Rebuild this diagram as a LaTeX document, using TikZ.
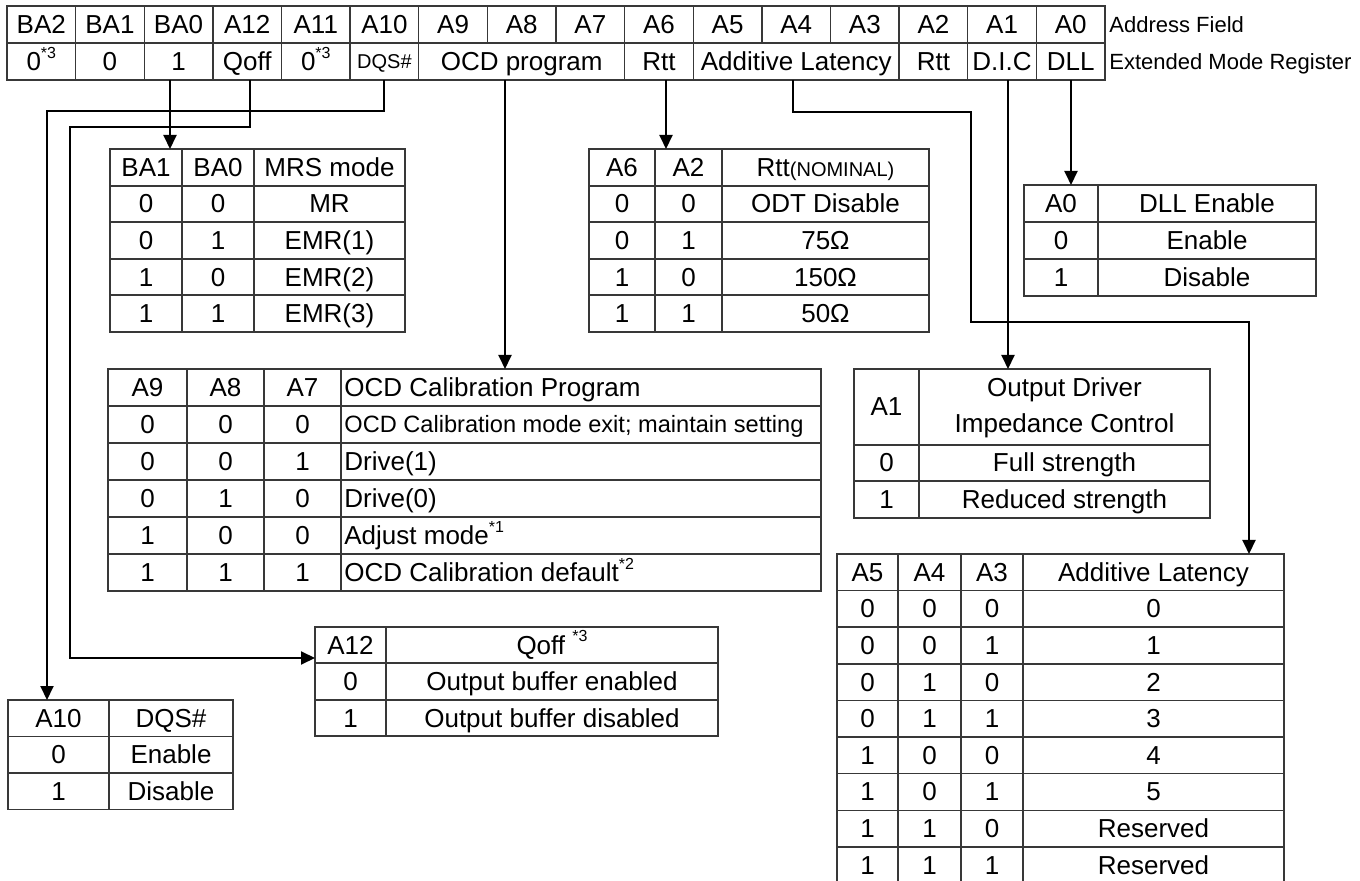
\documentclass[tikz,border=0pt]{standalone}
\usepackage{fontspec}
\setmainfont{Liberation Sans}
\usetikzlibrary{arrows.meta}
\newcommand\fsn{\fontsize{13}{15}\selectfont}
\newcommand\fss{\fontsize{11}{13}\selectfont}
\newcommand\fsx{\fontsize{10}{12}\selectfont}
\newcommand\fsm{\fontsize{11.8}{13}\selectfont}
\newcommand\supst[1]{\raisebox{0.9ex}{\fontsize{8}{9}\selectfont #1}}
\tikzset{
 tbl/.style={draw=black!78, line width=0.7pt},
 txt/.style={inner sep=0pt, anchor=base, font=\fsn},
 ltxt/.style={inner sep=0pt, anchor=base west, font=\fsn},
 conn/.style={draw=black, line width=1pt},
 arr/.style={conn, -{Triangle[length=7pt,width=6.5pt]}},
}
\begin{document}
\begin{tikzpicture}[x=0.5pt,y=-0.5pt]
\useasboundingbox (0,0) rectangle (1360,881);
% ---------- top register table ----------
\draw[tbl] (7,6) rectangle (1105,80);
\draw[tbl] (7,43) -- (1105,43);
\foreach \i in {1,...,15} {\draw[tbl] ({7+68.625*\i},6) -- ({7+68.625*\i},43);}
\foreach \i in {1,2,3,4,5,6,9,10,13,14,15} {\draw[tbl] ({7+68.625*\i},43) -- ({7+68.625*\i},80);}
\foreach \t [count=\i from 0] in {BA2,BA1,BA0,A12,A11,A10,A9,A8,A7,A6,A5,A4,A3,A2,A1,A0}
  {\node[txt] (af\i) at ({7+68.625*(\i+0.5)},33.5) {\t};}
\node[txt] (em0) at (41.3,70.5) {0\supst{*3}};
\node[txt] (em1) at (109.9,70.5) {0};
\node[txt] (em2) at (178.6,70.5) {1};
\node[txt] (em3) at (247.2,70.5) {Qoff};
\node[txt] (em4) at (315.8,70.5) {0\supst{*3}};
\node[txt,font=\fsx] (em5) at (384.4,68.5) {DQS\#};
\node[txt] (em6) at (521.7,70.5) {OCD program};
\node[txt] (em9) at (659,70.5) {Rtt};
\node[txt] (em10) at (796.2,70.5) {Additive Latency};
\node[txt] (em13) at (933.4,70.5) {Rtt};
\node[txt] (em14) at (1002,70.5) {D.I.C};
\node[txt] (em15) at (1070.7,70.5) {DLL};
\node[inner sep=0pt, anchor=base west, font=\fss] (lblAF) at (1109,32.5) {Address Field};
\node[inner sep=0pt, anchor=base west, font=\fss] (lblEMR) at (1109,69.5) {Extended Mode Register};
% ---------- MRS mode table ----------
\draw[tbl] (110,149) rectangle (405,332);
\foreach \y in {186,222,259,295} {\draw[tbl] (110,\y) -- (405,\y);}
\foreach \x in {182,254} {\draw[tbl] (\x,149) -- (\x,332);}
\foreach \ta/\tb/\tc [count=\i from 0] in {BA1/BA0/MRS mode,0/0/MR,0/1/EMR(1),1/0/EMR(2),1/1/EMR(3)}{
  \pgfmathsetmacro\yb{149+36.6*\i+18.3+9}
  \node[txt] (mrs-\i-a) at (146,\yb) {\ta};
  \node[txt] (mrs-\i-b) at (218,\yb) {\tb};
  \node[txt] (mrs-\i-c) at (329.5,\yb) {\tc};
}
% ---------- Rtt table ----------
\draw[tbl] (589,149) rectangle (929,332);
\foreach \y in {186,222,259,295} {\draw[tbl] (589,\y) -- (929,\y);}
\foreach \x in {655,722} {\draw[tbl] (\x,149) -- (\x,332);}
\node[txt] (rtt-0-a) at (622,176.3) {A6};
\node[txt] (rtt-0-b) at (688.5,176.3) {A2};
\node[txt] (rtt-0-c) at (825.5,176.3) {Rtt{\fsx(NOMINAL)}};
\foreach \ta/\tb/\tc [count=\i from 1] in {0/0/ODT Disable,0/1/75Ω,1/0/150Ω,1/1/50Ω}{
  \pgfmathsetmacro\yb{149+36.6*\i+18.3+9}
  \node[txt] (rtt-\i-a) at (622,\yb) {\ta};
  \node[txt] (rtt-\i-b) at (688.5,\yb) {\tb};
  \node[txt] (rtt-\i-c) at (825.5,\yb) {\tc};
}
% ---------- DLL table ----------
\draw[tbl] (1024,185) rectangle (1316,296);
\foreach \y in {222,259} {\draw[tbl] (1024,\y) -- (1316,\y);}
\draw[tbl] (1098,185) -- (1098,296);
\foreach \ta/\tb [count=\i from 0] in {A0/DLL Enable,0/Enable,1/Disable}{
  \pgfmathsetmacro\yb{185+37*\i+18.5+9}
  \node[txt] (dll-\i-a) at (1061,\yb) {\ta};
  \node[txt] (dll-\i-b) at (1207,\yb) {\tb};
}
% ---------- OCD table ----------
\draw[tbl] (108,369) rectangle (821,591);
\foreach \y in {406,443,480,517,554} {\draw[tbl] (108,\y) -- (821,\y);}
\foreach \x in {187,264,341} {\draw[tbl] (\x,369) -- (\x,591);}
\foreach \ta/\tb/\tc [count=\i from 0] in {A9/A8/A7,0/0/0,0/0/1,0/1/0,1/0/0,1/1/1}{
  \pgfmathsetmacro\yb{369+37*\i+18.5+9}
  \node[txt] (ocd-\i-a) at (147.5,\yb) {\ta};
  \node[txt] (ocd-\i-b) at (225.5,\yb) {\tb};
  \node[txt] (ocd-\i-c) at (302.5,\yb) {\tc};
}
\node[ltxt] (ocd-0-d) at (344,396.5) {OCD Calibration Program};
\node[ltxt,font=\fsm] (ocd-1-d) at (344,433) {OCD Calibration mode exit; maintain setting};
\node[ltxt] (ocd-2-d) at (344,470.5) {Drive(1)};
\node[ltxt] (ocd-3-d) at (344,507.5) {Drive(0)};
\node[ltxt] (ocd-4-d) at (344,544.5) {Adjust mode\supst{*1}};
\node[ltxt] (ocd-5-d) at (344,581.5) {OCD Calibration default\supst{*2}};
% ---------- Output driver table ----------
\draw[tbl] (854,369) rectangle (1210,518);
\foreach \y in {445,481} {\draw[tbl] (854,\y) -- (1210,\y);}
\draw[tbl] (919,369) -- (919,518);
\node[txt] (odi-0-a) at (886.5,416) {A1};
\node[txt] (odi-0-b) at (1064.5,397) {Output Driver};
\node[txt] (odi-0-c) at (1064.5,433) {Impedance Control};
\node[txt] (odi-1-a) at (886.5,472) {0};
\node[txt] (odi-1-b) at (1064.5,472) {Full strength};
\node[txt] (odi-2-a) at (886.5,508.5) {1};
\node[txt] (odi-2-b) at (1064.5,508.5) {Reduced strength};
% ---------- Additive latency table ----------
\draw[tbl] (837,890) -- (837,554) -- (1284,554) -- (1284,890);
\foreach \k in {1,...,8} {\draw[tbl] (837,{554+36.6*\k}) -- (1284,{554+36.6*\k});}
\foreach \x in {898,961,1023} {\draw[tbl] (\x,554) -- (\x,890);}
\foreach \ta/\tb/\tc/\td [count=\i from 0] in {A5/A4/A3/Additive Latency,0/0/0/0,0/0/1/1,0/1/0/2,0/1/1/3,1/0/0/4,1/0/1/5,1/1/0/Reserved,1/1/1/Reserved}{
  \pgfmathsetmacro\yb{554+36.6*\i+18.3+9}
  \node[txt] (al-\i-a) at (867.5,\yb) {\ta};
  \node[txt] (al-\i-b) at (929.5,\yb) {\tb};
  \node[txt] (al-\i-c) at (992,\yb) {\tc};
  \node[txt] (al-\i-d) at (1153.5,\yb) {\td};
}
% ---------- Qoff table ----------
\draw[tbl] (315,627) rectangle (718,736);
\foreach \y in {663,700} {\draw[tbl] (315,\y) -- (718,\y);}
\draw[tbl] (386,627) -- (386,736);
\node[txt] (qo-0-a) at (350.5,654) {A12};
\node[txt] (qo-0-b) at (552,654) {Qoff \supst{*3}};
\node[txt] (qo-1-a) at (350.5,690.5) {0};
\node[txt] (qo-1-b) at (552,690.5) {Output buffer enabled};
\node[txt] (qo-2-a) at (350.5,727) {1};
\node[txt] (qo-2-b) at (552,727) {Output buffer disabled};
% ---------- DQS# table ----------
\draw[tbl] (8,700) rectangle (233,809.5);
\foreach \y in {736.5,773} {\draw[tbl] (8,\y) -- (233,\y);}
\draw[tbl] (109,700) -- (109,809.5);
\foreach \ta/\tb [count=\i from 0] in {A10/DQS\#,0/Enable,1/Disable}{
  \pgfmathsetmacro\yb{700+36.5*\i+18.25+9}
  \node[txt] (dq-\i-a) at (58.5,\yb) {\ta};
  \node[txt] (dq-\i-b) at (171,\yb) {\tb};
}
% ---------- connector points ----------
\coordinate (pBA0) at (170,80);  \coordinate (tMRS) at (170,149);
\coordinate (pA12) at (250,80);  \coordinate (wA12) at (70,127);  \coordinate (tQoff) at (315,658);
\coordinate (pA10) at (384,80);  \coordinate (wA10) at (47,111);  \coordinate (tDQS) at (47,700);
\coordinate (pOCD) at (505,80);  \coordinate (tOCD) at (505,369);
\coordinate (pA6) at (666,80);   \coordinate (tRtt) at (666,149);
\coordinate (pAL) at (793,80);   \coordinate (wAL1) at (971,112); \coordinate (wAL2) at (1249,322); \coordinate (tAL) at (1249,554);
\coordinate (pA1) at (1008,80);  \coordinate (tODI) at (1008,369);
\coordinate (pA0) at (1071,80);  \coordinate (tDLL) at (1071,185);
% ---------- connectors ----------
\draw[arr] (pBA0) -- (tMRS);
\draw[arr] (pA12) |- (wA12) |- (tQoff);
\draw[arr] (pA10) |- (wA10) -- (tDQS);
\draw[arr] (pOCD) -- (tOCD);
\draw[arr] (pA6) -- (tRtt);
\draw[arr] (pAL) |- (wAL1) |- (wAL2) -- (tAL);
\draw[arr] (pA1) -- (tODI);
\draw[arr] (pA0) -- (tDLL);
\end{tikzpicture}
\end{document}
